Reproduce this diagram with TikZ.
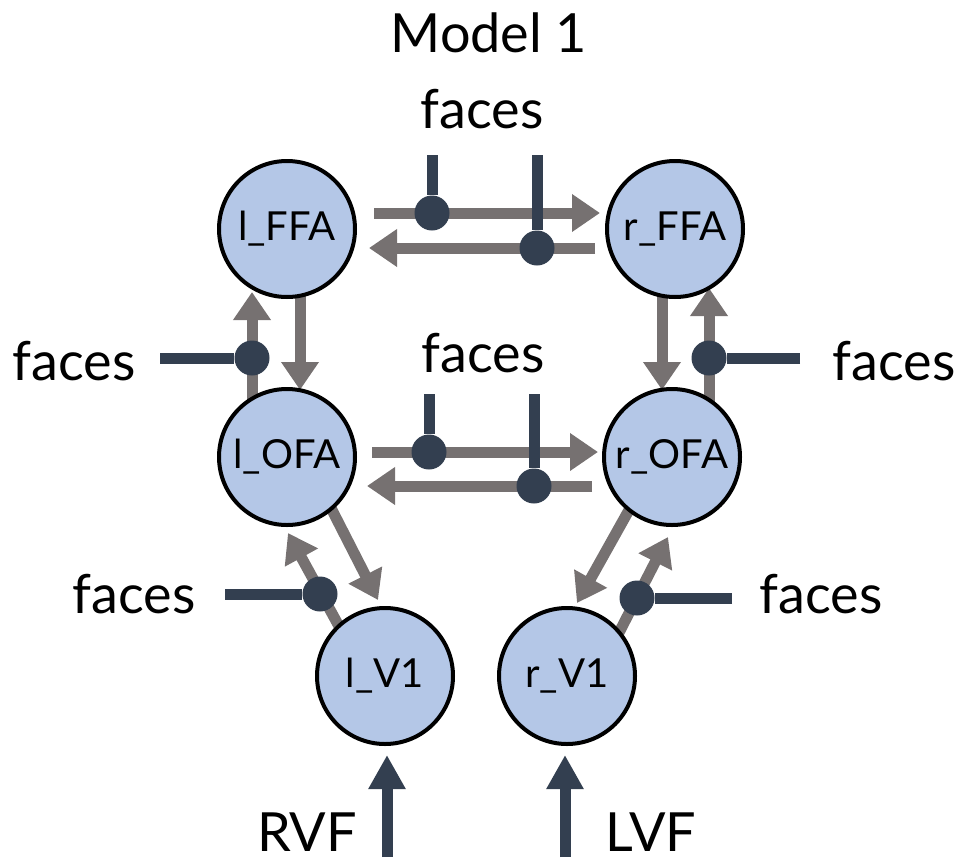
\documentclass[tikz,border=0pt]{standalone}
\usepackage{fontspec}
\setmainfont{Lato}
\usetikzlibrary{arrows.meta,calc,backgrounds}
\definecolor{roifill}{HTML}{B4C7E7}
\definecolor{conngray}{HTML}{767171}
\definecolor{modnavy}{HTML}{333F50}
\begin{document}
\begin{tikzpicture}[x=1pt,y=-1pt,
  roi/.style={circle,draw=black,line width=4pt,fill=roifill,minimum size=136pt,inner sep=0pt,font=\fontsize{40}{44}\selectfont},
  conn/.style={draw=conngray,line width=11pt,-{Triangle[width=36pt,length=28pt]}},
  modline/.style={draw=modnavy,line width=11pt},
  moddot/.style={circle,fill=modnavy,minimum size=35pt,inner sep=0pt},
  inputarr/.style={draw=modnavy,line width=11pt,-{Triangle[width=35pt,length=34pt]}},
  lbl/.style={anchor=base,inner sep=0pt,font=\fontsize{54}{60}\selectfont}]
\useasboundingbox (0,0) rectangle (964,865);
\node[lbl] (title) at (489,52) {Model 1};
\node[roi] (lFFA) at (287,229) {l\_FFA};
\node[roi] (rFFA) at (675,229) {r\_FFA};
\node[roi] (lOFA) at (287,457) {l\_OFA};
\node[roi] (rOFA) at (672,457) {r\_OFA};
\node[roi] (lV1) at (385,676) {l\_V1};
\node[roi] (rV1) at (567,676) {r\_V1};
\begin{scope}[on background layer]
\draw[conn] ($(lFFA)+(87,-16)$) -- ($(rFFA)+(-75,-16)$);
\draw[conn] ($(rFFA)+(-80,19)$) -- ($(lFFA)+(82,19)$);
\draw[conn] ($(lOFA)+(85,-5)$) -- ($(rOFA)+(-74,-5)$);
\draw[conn] ($(rOFA)+(-80,29)$) -- ($(lOFA)+(80,29)$);
\draw[conn] ($(lOFA)+(-35,0)$) -- ($(lFFA)+(-35,63)$);
\draw[conn] ($(lFFA)+(13,0)$) -- ($(lOFA)+(13,-67)$);
\draw[conn] ($(rFFA)+(-13,0)$) -- ($(rOFA)+(-10,-67)$);
\draw[conn] ($(rOFA)+(37,0)$) -- ($(rFFA)+(34,59)$);
\draw[conn] ($(lOFA)+(22,8)$) -- ($(lV1)+(-7,-76)$);
\draw[conn] ($(lV1)+(-33,-26)$) -- ($(lOFA)+(1,76)$);
\draw[conn] ($(rOFA)+(-29,28)$) -- ($(rV1)+(10,-73)$);
\draw[conn] ($(rV1)+(39,-18)$) -- ($(rOFA)+(-4,80)$);
\end{scope}
\node[moddot] (dFFAfwd) at (432,213) {};
\node[moddot] (dFFAbwd) at (537,248) {};
\node[moddot] (dOFAfwd) at (429,452) {};
\node[moddot] (dOFAbwd) at (534,486) {};
\node[moddot] (dLup) at (252,358) {};
\node[moddot] (dRup) at (709,358) {};
\node[moddot] (dLV1) at (320,594) {};
\node[moddot] (dRV1) at (637,598) {};
\coordinate (sFFAfwd) at (432,155);
\coordinate (sFFAbwd) at (537,155);
\coordinate (sOFAfwd) at (429,394);
\coordinate (sOFAbwd) at (534,394);
\coordinate (sLup) at (160,358);
\coordinate (sRup) at (800,358);
\coordinate (sLV1) at (225,594);
\coordinate (sRV1) at (732,598);
\draw[modline] (sFFAfwd) -- (dFFAfwd);
\draw[modline] (sFFAbwd) -- (dFFAbwd);
\draw[modline] (sOFAfwd) -- (dOFAfwd);
\draw[modline] (sOFAbwd) -- (dOFAbwd);
\draw[modline] (sLup) -- (dLup);
\draw[modline] (sRup) -- (dRup);
\draw[modline] (sLV1) -- (dLV1);
\draw[modline] (sRV1) -- (dRV1);
\coordinate (sRVF) at (387,857);
\coordinate (sLVF) at (565,857);
\draw[inputarr] (sRVF) -- ($(lV1)+(2,79)$);
\draw[inputarr] (sLVF) -- ($(rV1)+(-2,79)$);
\node[lbl] (fFFA) at (482,128) {faces};
\node[lbl] (fOFA) at (483,372) {faces};
\node[lbl] (fL) at (74,380) {faces};
\node[lbl] (fR) at (894,380) {faces};
\node[lbl] (fLV1) at (134,613) {faces};
\node[lbl] (fRV1) at (821,613) {faces};
\node[lbl] (rvf) at (307,851) {RVF};
\node[lbl] (lvf) at (651,851) {LVF};
\end{tikzpicture}
\end{document}
